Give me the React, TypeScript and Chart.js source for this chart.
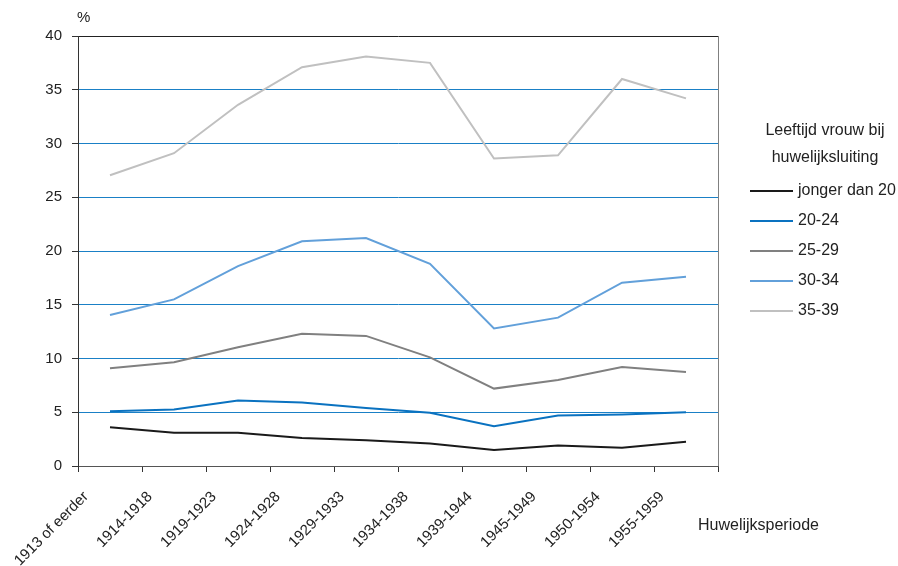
import React, { useEffect, useRef } from 'react';
import { Chart, registerables } from 'chart.js';

Chart.register(...registerables);

const periods = [
  '1913 of eerder',
  '1914-1918',
  '1919-1923',
  '1924-1928',
  '1929-1933',
  '1934-1938',
  '1939-1944',
  '1945-1949',
  '1950-1954',
  '1955-1959',
];
const youngerThan20 = [3.6, 3.1, 3.1, 2.6, 2.4, 2.1, 1.5, 1.9, 1.7, 2.25];
const age20to24 = [5.1, 5.25, 6.1, 5.9, 5.4, 4.95, 3.7, 4.7, 4.8, 5.0];
const age25to29 = [9.1, 9.65, 11.05, 12.3, 12.1, 10.1, 7.2, 8.0, 9.2, 8.75];
const age30to34 = [14.05, 15.5, 18.6, 20.9, 21.2, 18.8, 12.8, 13.8, 17.05, 17.6];
const age35to39 = [27.05, 29.1, 33.6, 37.1, 38.1, 37.5, 28.6, 28.9, 36.0, 34.2];
const seriesLabels = ['jonger dan 20', '20-24', '25-29', '30-34', '35-39'];
const seriesColors = ['#1a1a1a', '#0a72c0', '#808080', '#62a0da', '#c0c0c0'];
const legendTitle = ['Leeftijd vrouw bij', 'huwelijksluiting'];
const yUnit = '%';
const xTitle = 'Huwelijksperiode';
const yMin = 0;
const yMax = 40;
const yStep = 5;

const FONT = "'Liberation Sans', Arial, sans-serif";

const extrasPlugin = {
  id: 'extras',
  afterDraw(chart: any) {
    const { ctx, chartArea } = chart;
    ctx.save();
    // right border
    ctx.strokeStyle = '#808080';
    ctx.lineWidth = 1;
    ctx.beginPath();
    ctx.moveTo(Math.round(chartArea.right) + 0.5, chartArea.top);
    ctx.lineTo(Math.round(chartArea.right) + 0.5, chartArea.bottom);
    ctx.stroke();

    ctx.fillStyle = '#222';
    ctx.font = `15px ${FONT}`;
    ctx.textBaseline = 'middle';
    ctx.textAlign = 'left';
    ctx.fillText(yUnit, 77, 18);

    ctx.font = `16px ${FONT}`;
    ctx.fillText(xTitle, 698, 526);

    // legend
    ctx.textAlign = 'center';
    legendTitle.forEach((t, i) => ctx.fillText(t, 825, 131 + i * 27));
    ctx.textAlign = 'left';
    chart.data.datasets.forEach((ds: any, i: number) => {
      const y = 191 + i * 30;
      ctx.strokeStyle = ds.borderColor;
      ctx.lineWidth = 2;
      ctx.beginPath();
      ctx.moveTo(750, y);
      ctx.lineTo(793, y);
      ctx.stroke();
      ctx.fillStyle = '#222';
      ctx.fillText(ds.label, 798, y);
    });
    ctx.restore();
  },
};

export default function App() {
  const canvasRef = useRef<HTMLCanvasElement | null>(null);

  useEffect(() => {
    if (!canvasRef.current) return;
    const seriesData = [youngerThan20, age20to24, age25to29, age30to34, age35to39];
    const chart = new Chart(canvasRef.current, {
      type: 'line',
      data: {
        labels: periods,
        datasets: seriesData.map((d, i) => ({
          label: seriesLabels[i],
          data: d,
          borderColor: seriesColors[i],
          backgroundColor: seriesColors[i],
          borderWidth: 2,
          pointRadius: 0,
          tension: 0,
          fill: false,
        })),
      },
      options: {
        animation: false,
        responsive: true,
        maintainAspectRatio: false,
        layout: { padding: { top: 36, right: 180, left: 0, bottom: 0 } },
        plugins: {
          legend: { display: false },
          tooltip: { enabled: false },
        },
        scales: {
          x: {
            offset: true,
            grid: {
              offset: true,
              drawOnChartArea: false,
              drawTicks: true,
              tickLength: 6,
              tickColor: '#333',
            },
            border: { color: '#555', width: 1 },
            ticks: {
              autoSkip: false,
              maxRotation: 45,
              minRotation: 45,
              labelOffset: -24,
              padding: 16,
              color: '#222',
              font: { family: FONT, size: 15 },
            },
            afterFit(scale: any) {
              scale.height = 100;
              scale.paddingLeft = 0;
              scale.paddingRight = 0;
            },
          },
          y: {
            min: yMin,
            max: yMax,
            grid: {
              color: (c: any) =>
                c.tick && c.tick.value === yMax ? '#222' : c.tick && c.tick.value === yMin ? 'rgba(0,0,0,0)' : '#1a80c6',
              lineWidth: 1,
              drawTicks: true,
              tickLength: 6,
              tickColor: '#333',
            },
            border: { color: '#333', width: 1 },
            ticks: {
              stepSize: yStep,
              padding: 10,
              color: '#222',
              font: { family: FONT, size: 15 },
            },
            afterFit(scale: any) {
              scale.width = 78;
              scale.paddingTop = 0;
              scale.paddingBottom = 0;
            },
          },
        },
      },
      plugins: [extrasPlugin],
    });
    return () => chart.destroy();
  }, []);

  return (
    <div style={{ position: 'absolute', left: 0, top: 0, width: 898, height: 566, background: '#fff' }}>
      <canvas ref={canvasRef} />
    </div>
  );
}
